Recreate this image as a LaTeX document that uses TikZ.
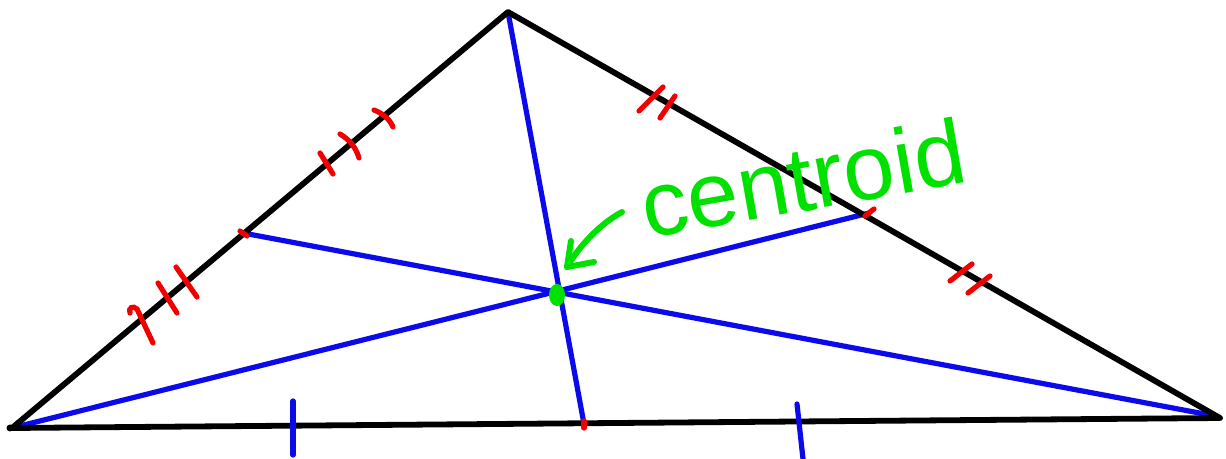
\documentclass[tikz,border=0pt]{standalone}
\usepackage{fontspec}
\setmainfont{Liberation Sans}
\definecolor{hgreen}{RGB}{0,225,0}
\definecolor{hblue}{RGB}{10,10,235}
\definecolor{hred}{RGB}{240,0,0}
\tikzset{
  side/.style={line width=2.9pt, line cap=round, line join=round, black},
  median/.style={line width=2.6pt, line cap=round, hblue},
  tick/.style={line width=2.6pt, line cap=round, hred},
  btick/.style={line width=2.6pt, line cap=round, hblue},
  pen/.style={line width=3pt, line cap=round, line join=round, hgreen}
}
\begin{document}
\begin{tikzpicture}[x=0.5pt,y=-0.5pt]
\useasboundingbox (0,0) rectangle (1226,459);
% vertices, midpoints, centroid
\coordinate (A) at (12,428);
\coordinate (B) at (508,12);
\coordinate (C) at (1220,418);
\coordinate (Mab) at (243,233);
\coordinate (Mbc) at (869,213);
\coordinate (Mac) at (584,424);
\coordinate (G) at (557,295);
\coordinate (A2) at (16,427);
\coordinate (C2) at (1210,415);
% medians
\draw[median] (B) -- (Mac);
\draw[median] (A2) -- (Mbc);
\draw[median] (C2) -- (Mab);
% triangle
\draw[side] (A) -- (B) -- (C) -- cycle;
\fill (10,428) circle (3.5);
% midpoint marks
\draw[tick] (240,231) -- (247,236);
\draw[tick] (865,216) -- (874,209);
\draw[tick] (584,421) -- (584,428);
% left side triple ticks
\draw[tick] (130,313) .. controls (128,308) and (133,305) .. (137,309) -- (153,343);
\draw[tick] (158,283) -- (177,313);
\draw[tick] (176,267) -- (197,297);
\draw[tick] (320,153) -- (333,174);
\draw[tick] (340,134) .. controls (350,140) and (356,148) .. (359,158);
\draw[tick] (374,110) .. controls (384,114) and (390,120) .. (393,127);
% right side double ticks
\draw[tick] (639,111) -- (663,87);
\draw[tick] (660,118) -- (675,96);
\draw[tick] (950,281) -- (972,264);
\draw[tick] (968,293) -- (990,276);
% bottom ticks
\draw[btick] (293,401) -- (293,455);
\draw[btick] (797,404) -- (803,459);
% centroid point
\fill[hgreen] (G) ellipse (8 and 11);
% label and arrow
\node[text=hgreen, rotate=10, font=\fontsize{46}{46}\selectfont] (lab) at (803,178) {centroid};
\coordinate (tail) at (622,212);
\coordinate (tip) at (567,267);
\draw[pen] (tail) .. controls (600,224) and (580,245) .. (tip);
\draw[pen] (571,241) -- (tip) -- (594,262);
\end{tikzpicture}
\end{document}
